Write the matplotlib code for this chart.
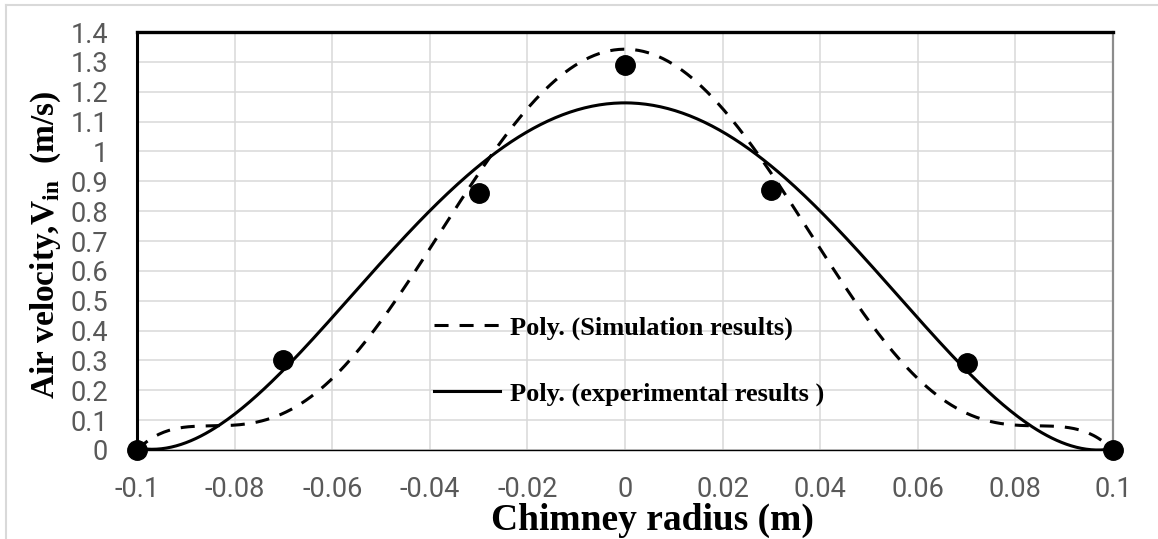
import numpy as np
import matplotlib.pyplot as plt
from matplotlib.lines import Line2D

# measured air velocity across the chimney (experiment)
radius_exp = [-0.1, -0.07, -0.03, 0.0, 0.03, 0.07, 0.1]
velocity_exp = [0.0, 0.30, 0.86, 1.29, 0.87, 0.29, 0.0]

# simulated velocity profile
radius_sim = [-0.1, -0.09, -0.08, -0.07, -0.06, -0.05, -0.04, -0.03, -0.02, -0.01, 0.0,
              0.01, 0.02, 0.03, 0.04, 0.05, 0.06, 0.07, 0.08, 0.09, 0.1]
velocity_sim = [0.0, 0.074, 0.085, 0.128, 0.232, 0.432, 0.68, 0.925, 1.138, 1.29, 1.35,
                1.29, 1.138, 0.925, 0.68, 0.432, 0.232, 0.128, 0.085, 0.074, 0.0]

xticks = [-0.1, -0.08, -0.06, -0.04, -0.02, 0, 0.02, 0.04, 0.06, 0.08, 0.1]
xtick_labels = ["-0.1", "-0.08", "-0.06", "-0.04", "-0.02", "0", "0.02", "0.04", "0.06", "0.08", "0.1"]
yticks = [0, 0.1, 0.2, 0.3, 0.4, 0.5, 0.6, 0.7, 0.8, 0.9, 1.0, 1.1, 1.2, 1.3, 1.4]
ytick_labels = ["0", "0.1", "0.2", "0.3", "0.4", "0.5", "0.6", "0.7", "0.8", "0.9", "1", "1.1", "1.2", "1.3", "1.4"]

plt.rcParams["mathtext.fontset"] = "custom"
plt.rcParams["mathtext.bf"] = "Liberation Serif:bold"
plt.rcParams["mathtext.rm"] = "Liberation Serif:bold"

W, H = 1158, 539
fig = plt.figure(figsize=(W / 100, H / 100), dpi=100)
ax = fig.add_axes([137 / W, 1 - 450 / H, 976 / W, 418 / H])

# polynomial trendlines (order 6 for simulation, order 4 for experiment)
xs = np.linspace(-0.1, 0.1, 400)
p_sim = np.polyfit(radius_sim, velocity_sim, 6)
p_exp = np.polyfit(radius_exp, velocity_exp, 4)
ax.plot(xs, np.polyval(p_sim, xs), color="black", lw=2.2, dashes=(4.6, 3.6),
        label="Poly. (Simulation results)", zorder=3)
ax.plot(xs, np.polyval(p_exp, xs), color="black", lw=2.2,
        label="Poly. (experimental results )", zorder=3)
ax.plot(radius_exp, velocity_exp, "o", color="black", ms=14, clip_on=False, zorder=4)

ax.set_xlim(-0.1, 0.1)
ax.set_ylim(0, 1.4)
ax.set_xticks(xticks)
ax.set_xticklabels(xtick_labels)
ax.set_yticks(yticks)
ax.set_yticklabels(ytick_labels)
ax.tick_params(length=0, labelsize=19.5, labelcolor="#595959")
ax.tick_params(axis="x", pad=19)
ax.tick_params(axis="y", pad=21)
for lbl in ax.get_xticklabels() + ax.get_yticklabels():
    lbl.set_fontfamily("Roboto")
ax.grid(color="#d9d9d9", lw=1.1)
ax.set_axisbelow(True)

ax.spines["left"].set_linewidth(2.2)
ax.spines["top"].set_linewidth(2.4)
ax.spines["bottom"].set_linewidth(1.0)
ax.spines["right"].set_color("#8c8c8c")
ax.spines["right"].set_linewidth(1.6)

leg = ax.legend(loc="upper left", bbox_to_anchor=((410 - 137) / 976, (450 - 292) / 418),
                frameon=False, handlelength=2.5, handletextpad=0.4, labelspacing=1.6,
                prop={"family": "Liberation Serif", "weight": "bold", "size": 19})

fig.text(652 / W, 1 - 530 / H, "Chimney radius (m)", ha="center", va="baseline",
         family="Liberation Serif", weight="bold", size=27)
fig.text(46 / W, 1 - 245 / H, r"Air velocity,V$_{\mathbf{in}}$  (m/s)", ha="center", va="center",
         rotation=90, family="Liberation Serif", weight="bold", size=24)

# chart area border
fig.add_artist(Line2D([6 / W, 1], [1 - 5 / H, 1 - 5 / H], transform=fig.transFigure, color="#d9d9d9", lw=1.5))
fig.add_artist(Line2D([6 / W, 6 / W], [1 - 5 / H, 0], transform=fig.transFigure, color="#d9d9d9", lw=1.5))

fig.savefig("out.png", dpi=100)
